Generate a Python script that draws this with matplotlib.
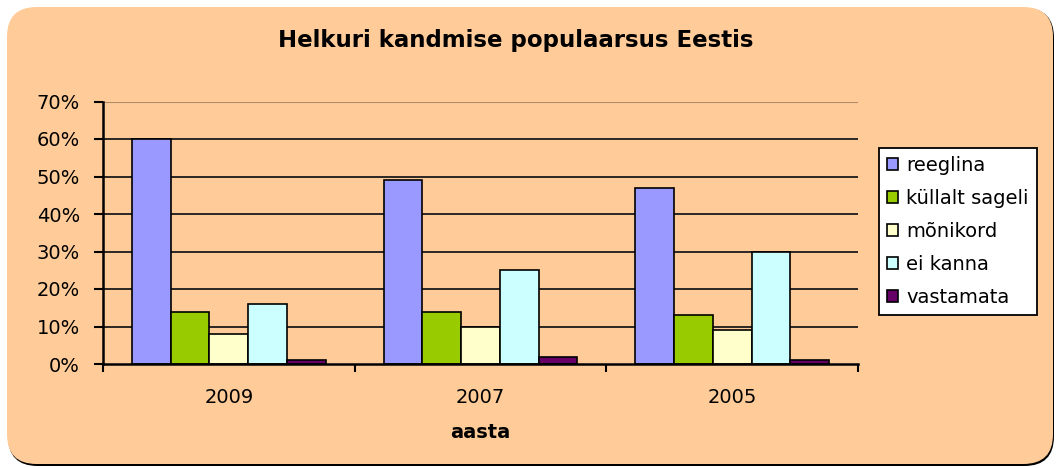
import matplotlib
matplotlib.use("Agg")
import matplotlib.pyplot as plt
from matplotlib.patches import FancyBboxPatch, Patch
import numpy as np

plt.rcParams['font.family'] = ['DejaVu Sans']

years = ["2009", "2007", "2005"]
series_names = ["reeglina", "küllalt sageli", "mõnikord", "ei kanna", "vastamata"]
reeglina = [60, 49, 47]
kullalt_sageli = [14, 14, 13]
monikord = [8, 10, 9]
ei_kanna = [16, 25, 30]
vastamata = [1, 2, 1]
series_values = [reeglina, kullalt_sageli, monikord, ei_kanna, vastamata]
colors = ["#9999FF", "#99CC00", "#FFFFCC", "#CCFFFF", "#660066"]
y_ticks = [0, 10, 20, 30, 40, 50, 60, 70]

W, H = 1058, 468
fig = plt.figure(figsize=(W / 100, H / 100), dpi=100, facecolor="white")

def fx(px):
    return px / W

def fy(py):
    return 1 - py / H

# background rounded panel with shadow
shadow = FancyBboxPatch((fx(8), fy(466)), fx(1046), (466 - 8) / H,
                        boxstyle="round,pad=0,rounding_size=0.028",
                        transform=fig.transFigure, facecolor="black",
                        edgecolor="none", mutation_aspect=W / H, zorder=0)
panel = FancyBboxPatch((fx(7), fy(464)), fx(1046), (464 - 7) / H,
                       boxstyle="round,pad=0,rounding_size=0.028",
                       transform=fig.transFigure, facecolor="#FFCC99",
                       edgecolor="none", mutation_aspect=W / H, zorder=0)
fig.patches.extend([shadow, panel])

ax = fig.add_axes([fx(103), fy(364), fx(858 - 103), (364 - 101.5) / H])
ax.set_zorder(2)
ax.set_facecolor("none")

n = len(series_names)
bw = 0.77 / n
x = np.arange(len(years)) + 0.5
for j, (name, vals, c) in enumerate(zip(series_names, series_values, colors)):
    ax.bar(x + (j - (n - 1) / 2) * bw, vals, width=bw, color=c,
           edgecolor="black", linewidth=1.2, label=name, zorder=3)

ax.set_xlim(0, 3)
ax.set_ylim(0, 70)
ax.set_yticks(y_ticks)
ax.set_yticklabels([f"{v}%" for v in y_ticks], fontsize=14)
for v in y_ticks[1:-1]:
    ax.axhline(v, color="#1a1a1a", linewidth=1.3, zorder=1)
ax.axhline(70, color="#B08A68", linewidth=1.5, zorder=1)

ax.set_xticks([0, 1, 2, 3])
ax.set_xticklabels([])
ax.set_xticks(x, minor=True)
ax.set_xticklabels(years, minor=True, fontsize=14)
ax.tick_params(axis="x", which="major", length=6, width=1.5, direction="out")
ax.tick_params(axis="x", which="minor", length=0, pad=17)
ax.tick_params(axis="y", length=6.5, width=1.5, direction="out", pad=10)

for s in ["top", "right"]:
    ax.spines[s].set_visible(False)
ax.spines["left"].set_linewidth(1.8)
ax.spines["bottom"].set_linewidth(1.8)
ax.spines["left"].set_zorder(4)
ax.spines["bottom"].set_zorder(4)

fig.text(fx(516), fy(40), "Helkuri kandmise populaarsus Eestis",
         ha="center", va="center", fontsize=16.5, fontweight="bold")
fig.text(fx(480), fy(433), "aasta", ha="center", va="center",
         fontsize=14, fontweight="bold")

handles = [Patch(facecolor=c, edgecolor="black", linewidth=1.2) for c in colors]
leg = fig.legend(handles, series_names, loc="upper left",
                 bbox_to_anchor=(fx(879), fy(148)), frameon=True,
                 fancybox=False, framealpha=1, fontsize=14, handlelength=0.6,
                 handleheight=0.6, handletextpad=0.4, labelspacing=0.72,
                 borderpad=0.4, borderaxespad=0)
leg.get_frame().set_edgecolor("black")
leg.get_frame().set_linewidth(1.3)
leg.get_frame().set_facecolor("white")
leg.set_zorder(5)

fig.savefig("out.png", dpi=100, facecolor=fig.get_facecolor())
